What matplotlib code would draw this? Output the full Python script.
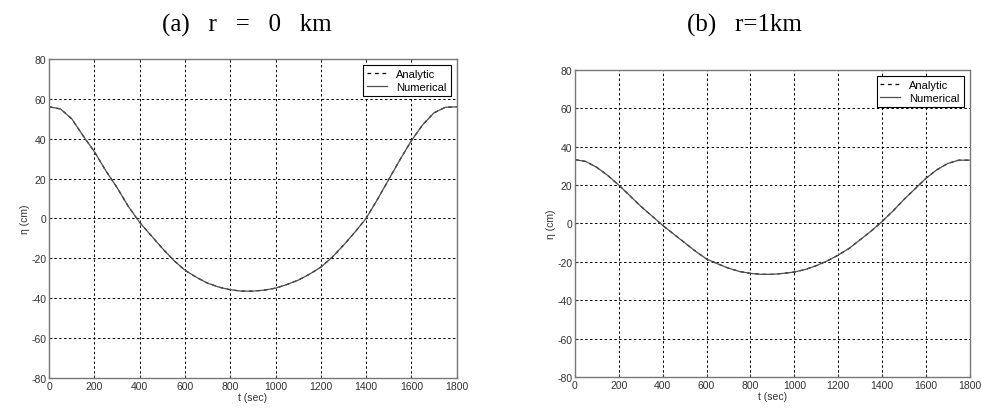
import matplotlib
matplotlib.use('Agg')
import matplotlib.pyplot as plt

# time axis (sec), read every 50 s from the picture
t_sec = list(range(0, 1850, 50))

# (a) r = 0 km
eta_r0_analytic = [56, 55, 50, 41.5, 33.5, 24, 15.5, 6, -2, -8.5, -15, -21, -26, -29.5,
                   -32.5, -34.5, -35.8, -36.5, -36.5, -36, -35, -33.2, -31, -28, -24.5,
                   -19.5, -13.5, -7, 0, 9.5, 19.5, 29.5, 39, 47, 53, 55.8, 56]
eta_r0_numerical = list(eta_r0_analytic)

# (b) r = 1 km
eta_r1_analytic = [33.3, 32.3, 29.2, 25, 20, 14.5, 9, 4, -1, -5.5, -10, -14.5, -18.5, -21,
                   -23.3, -25, -26, -26.5, -26.5, -26, -25.3, -24, -22, -19.5, -16.5,
                   -13, -8.5, -4, 1, 6.5, 12.5, 18, 23.5, 28, 31.3, 33, 33]
eta_r1_numerical = list(eta_r1_analytic)

panel_titles = ['(a)   r   =   0   km', '(b)   r=1km']
x_ticks = list(range(0, 2000, 200))
y_ticks = list(range(-80, 100, 20))

plt.rcParams['font.family'] = ['Liberation Sans', 'DejaVu Sans']
plt.rcParams['axes.unicode_minus'] = False

fig = plt.figure(figsize=(9.82, 4.14), dpi=100)

panels = [
    ([0.050, 0.085, 0.415, 0.770], eta_r0_analytic, eta_r0_numerical, 0.2515, 0.938),
    ([0.5855, 0.087, 0.402, 0.7415], eta_r1_analytic, eta_r1_numerical, 0.7576, 0.938),
]

for (rect, analytic, numerical, tx, ty), title in zip(panels, panel_titles):
    ax = fig.add_axes(rect)
    ax.plot(t_sec, analytic, linestyle=(0, (3, 3)), color='black', linewidth=0.9, label='Analytic')
    ax.plot(t_sec, numerical, linestyle='-', color='#505050', linewidth=0.9, label='Numerical')
    ax.set_xlim(0, 1800)
    ax.set_ylim(-80, 80)
    ax.set_xticks(x_ticks)
    ax.set_yticks(y_ticks)
    ax.grid(True, color='black', linestyle=(0, (2.5, 2.5)), linewidth=0.7)
    ax.tick_params(direction='in', length=2, labelsize=7.5, colors='#333333', pad=2)
    for s in ax.spines.values():
        s.set_color('#777777')
        s.set_linewidth(1.0)
    ax.set_xlabel('t (sec)', fontsize=7.5, color='#333333', labelpad=1)
    ax.set_ylabel('η (cm)', fontsize=7.5, color='#333333', labelpad=1)
    leg = ax.legend(loc='upper right', fontsize=8, frameon=True, fancybox=False,
                    borderpad=0.35, handlelength=1.8, labelspacing=0.3,
                    borderaxespad=0.55, handletextpad=0.8)
    leg.get_frame().set_edgecolor('black')
    leg.get_frame().set_linewidth(0.8)
    leg.get_frame().set_alpha(1)
    fig.text(tx, ty, title, ha='center', va='center', fontsize=18,
             family=['Liberation Serif', 'DejaVu Serif'])

fig.savefig('out.png', dpi=100)
